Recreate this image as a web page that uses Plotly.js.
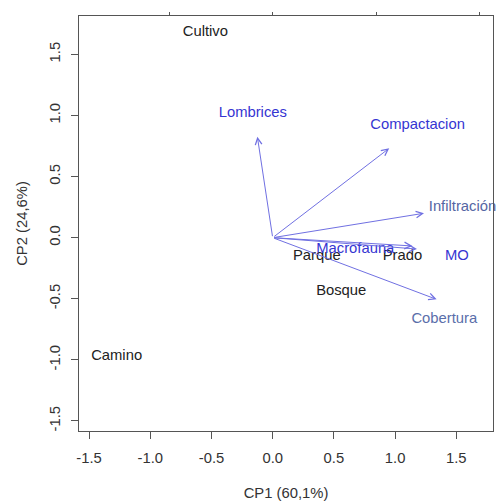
<!DOCTYPE html>
<html>
<head>
<meta charset="utf-8">
<script src="https://cdn.plot.ly/plotly-3.0.1.min.js"></script>
<style>html,body{margin:0;padding:0;background:#fff;}#chart{width:498px;height:501px;}</style>
</head>
<body>
<div id="chart"></div>
<script>
// Observations (scores, primary axes)
var sites = ["Cultivo", "Camino", "Parque", "Prado", "Bosque"];
var siteCP1 = [-0.55, -1.275, 0.36, 1.06, 0.56];
var siteCP2 = [1.68, -0.97, -0.15, -0.15, -0.44];

// Variables (loadings, secondary axes)
var vars = ["Lombrices", "Compactacion", "Infiltración", "Macrofauna", "MO", "Cobertura"];
var loadCP1 = [-0.074, 0.563, 0.731, 0.675, 0.697, 0.792];
var loadCP2 = [0.488, 0.432, 0.118, -0.040, -0.055, -0.298];
// Variable label positions (secondary axes)
var labCP1 = [-0.096, 0.700, 0.917, 0.399, 0.890, 0.829];
var labCP2 = [0.599, 0.543, 0.149, -0.056, -0.090, -0.393];
var labColors = ["#3535d2", "#3535d2", "#5566a4", "#3535d2", "#3535d2", "#5a6eaa"];

var xTicks = [-1.5, -1.0, -0.5, 0.0, 0.5, 1.0, 1.5];
var xTickText = ["-1.5", "-1.0", "-0.5", "0.0", "0.5", "1.0", "1.5"];
var yTicks = [-1.5, -1.0, -0.5, 0.0, 0.5, 1.0, 1.5];
var yTickText = ["-1.5", "-1.0", "-0.5", "0.0", "0.5", "1.0", "1.5"];
var topTicks = [-0.5, 0.0, 0.5, 1.0];

var FONT = "Liberation Sans, Arial, Helvetica, sans-serif";
var FS = 14.8;

var traces = [
  {
    type: "scatter", mode: "text", x: siteCP1, y: siteCP2, text: sites,
    textposition: "middle center",
    textfont: {family: FONT, size: FS, color: "#222"},
    hoverinfo: "none", showlegend: false, cliponaxis: false
  },
  {
    type: "scatter", mode: "text", x: labCP1, y: labCP2, text: vars,
    xaxis: "x2", yaxis: "y2",
    textposition: "middle center",
    textfont: {family: FONT, size: FS, color: labColors},
    hoverinfo: "none", showlegend: false, cliponaxis: false
  }
];

var annotations = vars.map(function (v, i) {
  return {
    xref: "x2", yref: "y2", axref: "x2", ayref: "y2",
    x: loadCP1[i], y: loadCP2[i], ax: 0, ay: 0,
    text: "", showarrow: true, arrowhead: 5, arrowsize: 1.3, arrowwidth: 1,
    arrowcolor: "#7070e2", standoff: 0, startstandoff: 0
  };
});

var layout = {
  width: 498, height: 501,
  margin: {l: 79, r: 5, t: 16, b: 70, pad: 0},
  paper_bgcolor: "#fff", plot_bgcolor: "#fff",
  font: {family: FONT, size: FS, color: "#333"},
  showlegend: false,
  xaxis: {
    range: [-1.5825, 1.80], tickmode: "array", tickvals: xTicks, ticktext: xTickText,
    ticks: "outside", ticklen: 7, tickcolor: "#555", showgrid: false, zeroline: false,
    showline: true, linecolor: "#555", linewidth: 1, mirror: true,
    ticklabelstandoff: 6,
    tickfont: {family: FONT, size: FS, color: "#333"},
    title: {text: "CP1 (60,1%)", font: {family: FONT, size: FS, color: "#333"}, standoff: 26},
    automargin: false
  },
  yaxis: {
    range: [-1.582, 1.814], tickmode: "array", tickvals: yTicks, ticktext: yTickText,
    ticks: "outside", ticklen: 7, tickcolor: "#555", showgrid: false, zeroline: false,
    showline: true, linecolor: "#555", linewidth: 1, mirror: true, tickangle: -90,
    ticklabelstandoff: 5,
    tickfont: {family: FONT, size: FS, color: "#333"},
    title: {text: "CP2 (24,6%)", font: {family: FONT, size: FS, color: "#333"}, standoff: 15},
    automargin: false
  },
  xaxis2: {
    overlaying: "x", side: "top", range: [-0.9357, 1.0643],
    tickmode: "array", tickvals: topTicks, ticks: "outside", ticklen: 3, tickcolor: "#555",
    showticklabels: false, showgrid: false, zeroline: false, showline: false
  },
  yaxis2: {
    overlaying: "y", side: "right", range: [-0.934, 1.071],
    ticks: "", showticklabels: false, showgrid: false, zeroline: false, showline: false
  },
  annotations: annotations
};

Plotly.newPlot("chart", traces, layout, {staticPlot: true, displayModeBar: false});
</script>
</body>
</html>
